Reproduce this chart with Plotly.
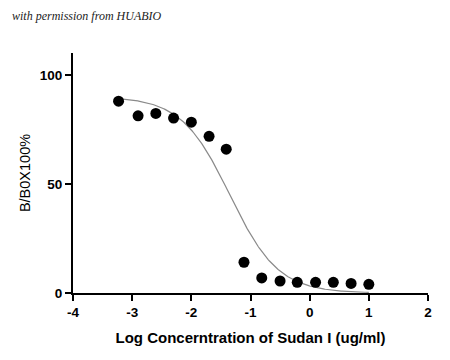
import numpy as np
import plotly.graph_objects as go

# Data
log_conc = [-3.23, -2.90, -2.60, -2.30, -2.00, -1.70, -1.41, -1.11, -0.81, -0.50, -0.21, 0.10, 0.40, 0.70, 1.00]
b_b0 = [87.9, 81.2, 82.3, 80.2, 78.3, 71.8, 65.9, 14.1, 6.9, 5.5, 4.9, 4.9, 4.9, 4.4, 4.0]

# Four-parameter logistic fit parameters (estimated from the drawn curve)
fit_top = 90.0
fit_bottom = 0.0
fit_logec50 = -1.35
fit_hill = 1.06

x_ticks = [-4, -3, -2, -1, 0, 1, 2]
y_ticks = [0, 50, 100]

xc = np.linspace(min(log_conc), max(log_conc), 300)
yc = fit_bottom + (fit_top - fit_bottom) / (1 + 10 ** ((xc - fit_logec50) * fit_hill))

SANS = "Liberation Sans, Arial, sans-serif"

fig = go.Figure()
fig.add_trace(go.Scatter(x=xc, y=yc, mode="lines",
                         line=dict(color="#8a8a8a", width=1.2),
                         hoverinfo="skip", showlegend=False))
fig.add_trace(go.Scatter(x=log_conc, y=b_b0, mode="markers",
                         marker=dict(color="black", size=11),
                         cliponaxis=False, showlegend=False))

ML, MT, PW, PH = 65, 45, 355, 240

fig.update_layout(
    width=450, height=360,
    margin=dict(l=ML, r=450 - ML - PW, t=MT, b=360 - MT - PH, autoexpand=False),
    paper_bgcolor="white", plot_bgcolor="white",
    font=dict(family=SANS, color="black"),
    xaxis=dict(range=[-4, 2], tickvals=x_ticks, ticktext=[str(v) for v in x_ticks],
               showline=True, linecolor="black", linewidth=2.2,
               ticks="outside", ticklen=6, tickwidth=2, tickcolor="black",
               showgrid=False, zeroline=False,
               tickfont=dict(family=SANS, size=13.5, color="black", weight="bold"),
               title=dict(text="<b>Log Concerntration of Sudan I (ug/ml)</b>",
                          font=dict(family=SANS, size=15, color="black"),
                          standoff=13)),
    yaxis=dict(range=[0, 110], tickvals=y_ticks, ticktext=[str(v) for v in y_ticks],
               showline=True, linecolor="black", linewidth=2.2,
               ticks="outside", ticklen=6, tickwidth=2, tickcolor="black",
               showgrid=False, zeroline=False,
               tickfont=dict(family=SANS, size=13.5, color="black", weight="bold"),
               title=dict(text="B/B0X100%",
                          font=dict(family=SANS, size=14.5, color="black"),
                          standoff=6)),
    annotations=[dict(text="<i>with permission from HUABIO</i>", xref="paper", yref="paper",
                      x=(2 - ML) / PW, y=1 + (MT - 8) / PH, xanchor="left", yanchor="middle",
                      showarrow=False,
                      font=dict(family="Liberation Serif, serif", size=12, color="#222"))],
)

fig.write_html("out.html")
